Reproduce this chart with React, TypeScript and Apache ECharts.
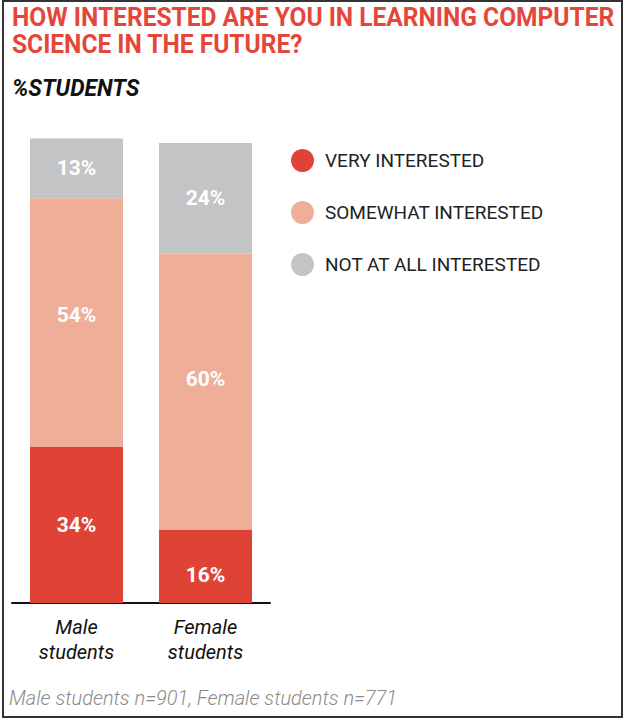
import React, { useEffect, useRef } from "react";
import * as echarts from "echarts";

const categories = ["Male\nstudents", "Female\nstudents"];
const seriesNames = ["VERY INTERESTED", "SOMEWHAT INTERESTED", "NOT AT ALL INTERESTED"];
const veryInterested = [34, 16];
const somewhatInterested = [54, 60];
const notAtAllInterested = [13, 24];

const titleLines = ["HOW INTERESTED ARE YOU IN LEARNING COMPUTER", "SCIENCE IN THE FUTURE?"];
const subtitleText = "%STUDENTS";
const footnoteText = "Male students n=901, Female students n=771";

const COLORS = ["#DF4336", "#EEAE97", "#C3C4C6"];
// vertical nudges of the value labels (style only)
const LABEL_NUDGE = [
  [0, 9],
  [-7, -12],
  [0, 0],
];

export default function App() {
  const ref = useRef<HTMLDivElement>(null);
  useEffect(() => {
    if (!ref.current) return;
    const chart = echarts.init(ref.current, null, { renderer: "svg" });
    const values = [veryInterested, somewhatInterested, notAtAllInterested];
    const series = values.map((arr, si) => ({
      name: seriesNames[si],
      type: "bar",
      stack: "total",
      barWidth: 93,
      itemStyle: { color: COLORS[si] },
      label: {
        show: true,
        position: "inside",
        formatter: "{c}%",
        color: "#ffffff",
        fontFamily: "Roboto",
        fontWeight: "bold",
        fontSize: 21,
      },
      data: arr.map((v, i) => ({
        value: v,
        label: { offset: [0, LABEL_NUDGE[si][i]] },
      })),
    }));
    const titleFont = "bold 26px Roboto";
    chart.setOption({
      animation: false,
      backgroundColor: "#ffffff",
      legend: {
        data: seriesNames,
        orient: "vertical",
        left: 286,
        top: 144,
        icon: "circle",
        itemWidth: 23,
        itemHeight: 23,
        itemGap: 29,
        selectedMode: false,
        textStyle: {
          color: "#222222",
          fontFamily: "Roboto",
          fontSize: 19,
          padding: [0, 0, 0, 6],
        },
      },
      grid: { left: 12, width: 258, top: 97, bottom: 116, containLabel: false },
      xAxis: {
        type: "category",
        data: categories,
        axisLine: { show: true, lineStyle: { color: "#111111", width: 2 } },
        axisTick: { show: false },
        axisLabel: {
          margin: 11,
          color: "#111111",
          fontFamily: "Roboto",
          fontStyle: "italic",
          fontSize: 20,
          lineHeight: 25,
        },
      },
      yAxis: {
        type: "value",
        min: 0,
        max: 110,
        show: false,
        splitLine: { show: false },
      },
      graphic: [
        {
          type: "text",
          x: 12,
          y: 4,
          scaleX: 0.944,
          style: { text: titleLines[0], font: titleFont, fill: "#E5463A", textVerticalAlign: "top" },
        },
        {
          type: "text",
          x: 12,
          y: 31,
          scaleX: 0.944,
          style: { text: titleLines[1], font: titleFont, fill: "#E5463A", textVerticalAlign: "top" },
        },
        {
          type: "text",
          x: 12,
          y: 77,
          scaleX: 0.99,
          style: {
            text: subtitleText,
            font: "italic bold 23px Roboto",
            fill: "#111111",
            textVerticalAlign: "top",
          },
        },
        {
          type: "text",
          x: 9,
          y: 688,
          style: {
            text: footnoteText,
            font: "italic 300 20px Roboto",
            fill: "#8a8a8a",
            textVerticalAlign: "top",
          },
        },
        {
          type: "rect",
          shape: { x: 3, y: 1, width: 619, height: 716 },
          style: { fill: "none", stroke: "#333333", lineWidth: 2 },
          silent: true,
        },
      ],
      series,
    });
    return () => chart.dispose();
  }, []);
  return (
    <div
      ref={ref}
      style={{ position: "fixed", left: 0, top: 0, width: 625, height: 719, background: "#fff" }}
    />
  );
}
